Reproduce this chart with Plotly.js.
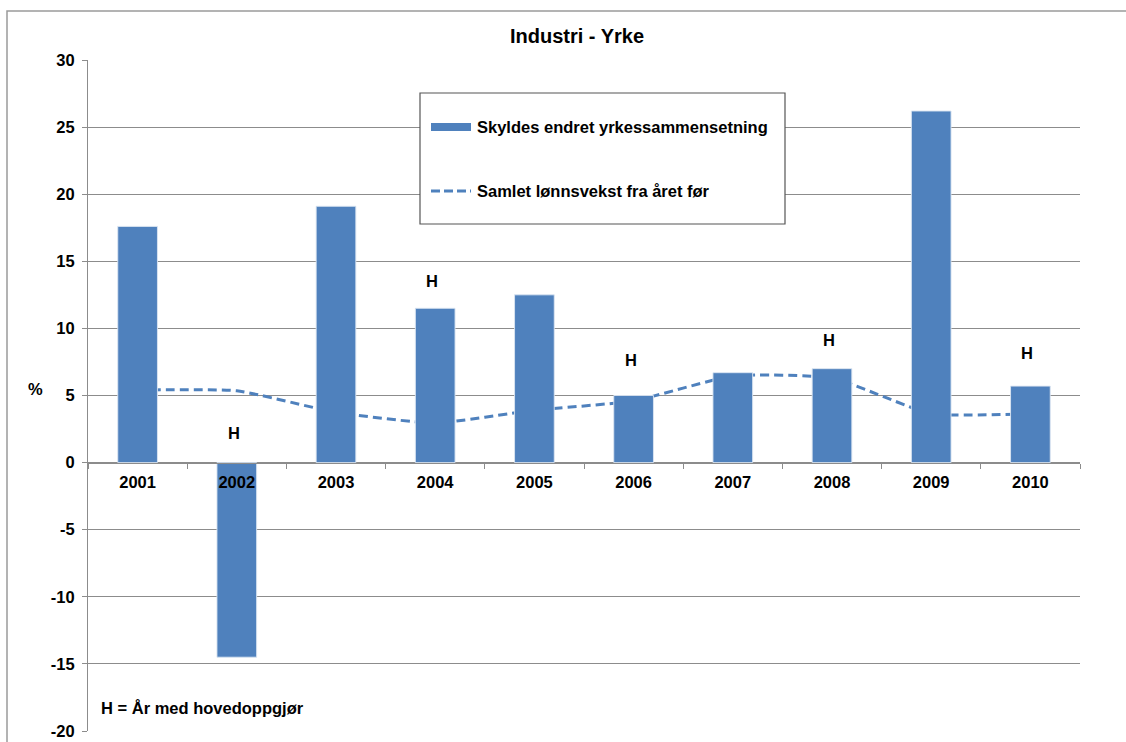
<!DOCTYPE html>
<html>
<head>
<meta charset="utf-8">
<script src="https://cdn.plot.ly/plotly-3.0.1.min.js"></script>
<style>
html, body { margin: 0; padding: 0; background: #fff; }
#chart { width: 1126px; height: 742px; }
</style>
</head>
<body>
<div id="chart"></div>
<script>
// Data
const years = ['2001','2002','2003','2004','2005','2006','2007','2008','2009','2010'];
const yrkeEffekt = [17.6, -14.5, 19.1, 11.5, 12.5, 5.0, 6.7, 7.0, 26.2, 5.7];
const lonnsvekst = [5.4, 5.35, 3.75, 2.95, 3.9, 4.6, 6.45, 6.3, 3.65, 3.65];
const hYears = ['2002','2004','2006','2008','2010'];
const hLabelY = [2.2, 13.5, 7.65, 9.1, 8.2];
const seriesNames = ['Skyldes endret yrkessammensetning', 'Samlet lønnsvekst fra året før'];
const chartTitle = 'Industri - Yrke';
const noteText = 'H = År med hovedoppgjør';
const yRange = [-20, 30];
const yTickVals = [-20, -15, -10, -5, 0, 5, 10, 15, 20, 25, 30];
const yTickText = ['-20', '-15', '-10', '-5', '0', '5', '10', '15', '20', '25', '30'];

const blue = '#4F81BD';
const fontFam = '"Liberation Sans", Arial, Helvetica, sans-serif';
const boldFont = (s) => ({family: fontFam, size: s, color: '#000', weight: 'bold'});

// plot area in pixels (for legend box placement in paper units)
const L = 88, R = 1080, T = 60, B = 731;
const px = (x) => (x - L) / (R - L);
const py = (y) => 1 - (y - T) / (B - T);

const traces = [
  {
    type: 'scatter', mode: 'lines', x: years, y: lonnsvekst,
    name: seriesNames[1], xaxis: 'x', yaxis: 'y',
    line: {color: blue, width: 3, dash: '9px,5px', shape: 'spline', smoothing: 0.5},
    showlegend: false, hoverinfo: 'skip'
  },
  {
    type: 'bar', x: years, y: yrkeEffekt, name: seriesNames[0],
    xaxis: 'x', yaxis: 'y2', width: 0.4,
    marker: {color: blue, line: {color: 'rgba(220,230,242,0.9)', width: 1}},
    showlegend: false, hoverinfo: 'skip'
  }
];

const annotations = hYears.map((yr, i) => ({
  x: years.indexOf(yr), y: hLabelY[i], xref: 'x', yref: 'y', text: 'H', showarrow: false,
  font: boldFont(16.5), xshift: -3, yanchor: 'middle'
}));
annotations.push({
  xref: 'paper', yref: 'y', x: 0, y: 5.5, xanchor: 'center', xshift: -53,
  text: '%', showarrow: false, font: boldFont(16.5)
});
annotations.push({
  xref: 'paper', yref: 'y', x: 0, y: -18.3, xanchor: 'left', xshift: 11,
  text: noteText, showarrow: false, font: boldFont(16.5)
});
// legend texts
annotations.push({
  xref: 'paper', yref: 'paper', x: px(475), y: py(127), xanchor: 'left', yanchor: 'middle',
  text: seriesNames[0], showarrow: false, font: boldFont(16.5)
});
annotations.push({
  xref: 'paper', yref: 'paper', x: px(475), y: py(191), xanchor: 'left', yanchor: 'middle',
  text: seriesNames[1], showarrow: false, font: boldFont(16.5)
});

const xPos = (0 - yRange[0]) / (yRange[1] - yRange[0]);

const layout = {
  width: 1126, height: 742,
  margin: {l: 88, r: 46, t: 60, b: 11, pad: 0},
  paper_bgcolor: '#fff', plot_bgcolor: '#fff',
  title: {
    text: chartTitle, font: boldFont(20),
    xref: 'container', x: 577/1126, xanchor: 'center',
    yref: 'container', y: 1 - 36/742, yanchor: 'middle'
  },
  showlegend: false,
  xaxis: {
    type: 'category', range: [-0.5, 9.5],
    anchor: 'free', position: xPos,
    showline: true, linecolor: '#8c8c8c', linewidth: 1,
    ticks: 'outside', tickson: 'boundaries', ticklen: 5, tickcolor: '#8c8c8c',
    showgrid: false, zeroline: false,
    tickfont: boldFont(16.5), ticklabelstandoff: 5
  },
  yaxis: {
    range: yRange, tickmode: 'array', tickvals: yTickVals, ticktext: yTickText,
    showgrid: true, gridcolor: '#8c8c8c', gridwidth: 1,
    zeroline: false,
    showline: true, linecolor: '#8c8c8c', linewidth: 1,
    ticks: 'outside', ticklen: 5, tickcolor: '#8c8c8c',
    tickfont: boldFont(16.5), ticklabelstandoff: 4
  },
  yaxis2: {
    range: yRange, overlaying: 'y', side: 'left',
    showgrid: false, zeroline: false, showticklabels: false, showline: false, ticks: ''
  },
  annotations: annotations,
  shapes: [
    // outer chart frame
    {type: 'rect', xref: 'paper', yref: 'paper',
     x0: px(7), x1: 1.2, y0: -0.2, y1: py(11),
     line: {color: '#9a9a9a', width: 1.5}, fillcolor: 'rgba(0,0,0,0)', layer: 'below'},
    // legend box
    {type: 'rect', xref: 'paper', yref: 'paper',
     x0: px(420), x1: px(785), y0: py(224), y1: py(93),
     line: {color: '#555', width: 1.2}, fillcolor: '#fff', layer: 'above'},
    // legend swatch: bar
    {type: 'rect', xref: 'paper', yref: 'paper',
     x0: px(431), x1: px(471), y0: py(131), y1: py(123),
     line: {width: 0}, fillcolor: blue, layer: 'above'},
    // legend swatch: dashed line
    {type: 'line', xref: 'paper', yref: 'paper',
     x0: px(431), x1: px(471), y0: py(191), y1: py(191),
     line: {color: blue, width: 3, dash: '9px,4px'}, layer: 'above'}
  ]
};

Plotly.newPlot('chart', traces, layout, {staticPlot: true, displayModeBar: false});
</script>
</body>
</html>
